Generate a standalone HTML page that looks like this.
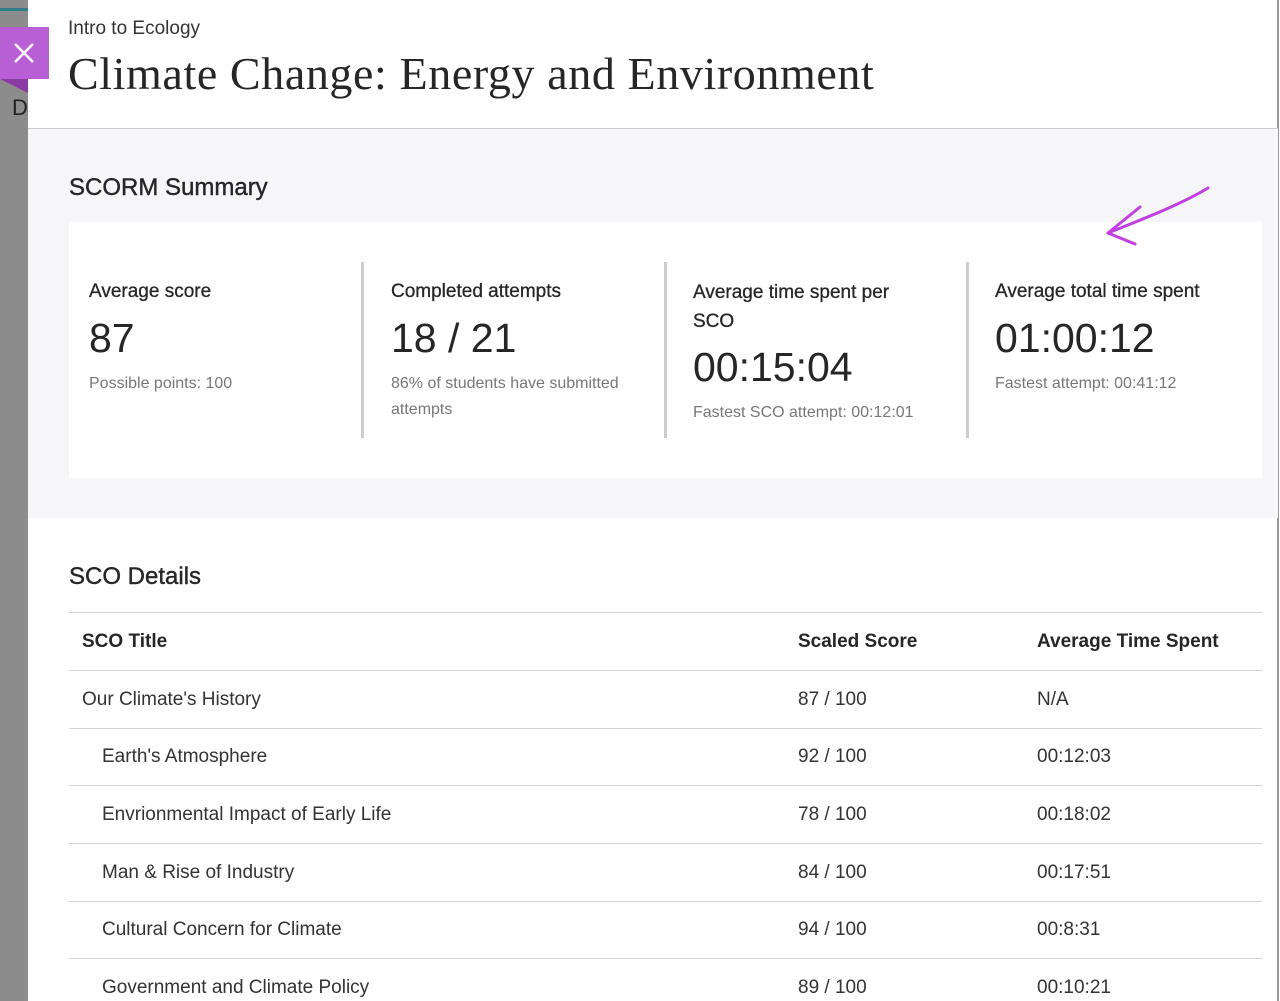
<!DOCTYPE html>
<html><head><meta charset="utf-8"><style>
*{margin:0;padding:0;box-sizing:border-box}
body{width:1280px;height:1001px;overflow:hidden;position:relative;background:#fff;font-family:"Liberation Sans",sans-serif;color:#262626}
.a{position:absolute;white-space:nowrap}
.side{left:0;top:0;width:28px;height:1001px;background:#8c8c8c}
.hl{border-top:1px solid #d4d4d4;left:69px;width:1193px;height:0}
.vl{width:3px;background:#cdcdcd;top:262px;height:176px}
.lab{font-size:19px;color:#262626;-webkit-text-stroke:0.3px #262626}
.big{font-size:41px;color:#262626}
.sm{font-size:16px;color:#777;line-height:26px}
.td{font-size:19px;color:#333}
.th{font-size:19px;font-weight:bold;color:#262626}
.h2{font-size:24px;color:#262626;-webkit-text-stroke:0.4px #262626}
</style></head><body>
<div class="a side"></div>
<div class="a" style="left:0;top:8px;width:28px;height:3px;background:#2f7f8a"></div>
<div class="a" style="left:12px;top:95px;font-size:22px;color:#222">D</div>
<div class="a" style="left:28px;top:0;width:1251px;height:1001px;background:#fff;border-right:2px solid #999"></div>
<div class="a" style="left:28px;top:128px;width:1250px;height:390px;background:#f6f5f8;border-top:1px solid #ccc"></div>
<div class="a" style="left:0;top:27px;width:49px;height:52px;background:#b95fd6"></div>
<div class="a" style="left:0;top:79px;width:0;height:0;border-top:14px solid #8b3aa3;border-left:28px solid transparent"></div>
<svg class="a" style="left:12px;top:41px" width="24" height="24"><path d="M3 3L21 21M21 3L3 21" stroke="#fff" stroke-width="2.5"/></svg>
<div class="a" style="left:68px;top:18px;font-size:19px;color:#333">Intro to Ecology</div>
<div class="a" style="left:68px;top:47px;font-family:'Liberation Serif',serif;font-size:46px;letter-spacing:0.6px;color:#262626">Climate Change: Energy and Environment</div>
<div class="a h2" style="left:69px;top:174px">SCORM Summary</div>
<div class="a" style="left:69px;top:222px;width:1193px;height:256px;background:#fff"></div>
<svg class="a" style="left:1100px;top:180px" width="120" height="70"><path d="M108 8C80 25 40 40 8 53M8 53L40 27M8 53L35 64" stroke="#c040e0" stroke-width="3" fill="none" stroke-linecap="round"/></svg>
<div class="a vl" style="left:361px"></div>
<div class="a vl" style="left:664px"></div>
<div class="a vl" style="left:966px"></div>
<div class="a lab" style="left:89px;top:281px">Average score</div>
<div class="a big" style="left:89px;top:315px">87</div>
<div class="a sm" style="left:89px;top:371px">Possible points: 100</div>
<div class="a lab" style="left:391px;top:281px">Completed attempts</div>
<div class="a big" style="left:391px;top:315px">18 / 21</div>
<div class="a sm" style="left:391px;top:371px">86% of students have submitted<br>attempts</div>
<div class="a lab" style="left:693px;top:278px;line-height:29px">Average time spent per<br>SCO</div>
<div class="a big" style="left:693px;top:344px">00:15:04</div>
<div class="a sm" style="left:693px;top:400px">Fastest SCO attempt: 00:12:01</div>
<div class="a lab" style="left:995px;top:281px">Average total time spent</div>
<div class="a big" style="left:995px;top:315px">01:00:12</div>
<div class="a sm" style="left:995px;top:371px">Fastest attempt: 00:41:12</div>
<div class="a h2" style="left:69px;top:563px">SCO Details</div>
<div class="a hl" style="top:612px"></div>
<div class="a th" style="left:82px;top:631px">SCO Title</div>
<div class="a th" style="left:798px;top:631px">Scaled Score</div>
<div class="a th" style="left:1037px;top:631px">Average Time Spent</div>
<div class="a hl" style="top:670px"></div>
<div class="a td" style="left:82px;top:689px">Our Climate's History</div><div class="a td" style="left:798px;top:689px">87 / 100</div><div class="a td" style="left:1037px;top:689px">N/A</div>
<div class="a hl" style="top:728px"></div>
<div class="a td" style="left:102px;top:746px">Earth's Atmosphere</div><div class="a td" style="left:798px;top:746px">92 / 100</div><div class="a td" style="left:1037px;top:746px">00:12:03</div>
<div class="a hl" style="top:785px"></div>
<div class="a td" style="left:102px;top:804px">Envrionmental Impact of Early Life</div><div class="a td" style="left:798px;top:804px">78 / 100</div><div class="a td" style="left:1037px;top:804px">00:18:02</div>
<div class="a hl" style="top:843px"></div>
<div class="a td" style="left:102px;top:862px">Man &amp; Rise of Industry</div><div class="a td" style="left:798px;top:862px">84 / 100</div><div class="a td" style="left:1037px;top:862px">00:17:51</div>
<div class="a hl" style="top:901px"></div>
<div class="a td" style="left:102px;top:919px">Cultural Concern for Climate</div><div class="a td" style="left:798px;top:919px">94 / 100</div><div class="a td" style="left:1037px;top:919px">00:8:31</div>
<div class="a hl" style="top:958px"></div>
<div class="a td" style="left:102px;top:977px">Government and Climate Policy</div><div class="a td" style="left:798px;top:977px">89 / 100</div><div class="a td" style="left:1037px;top:977px">00:10:21</div>
</body></html>
